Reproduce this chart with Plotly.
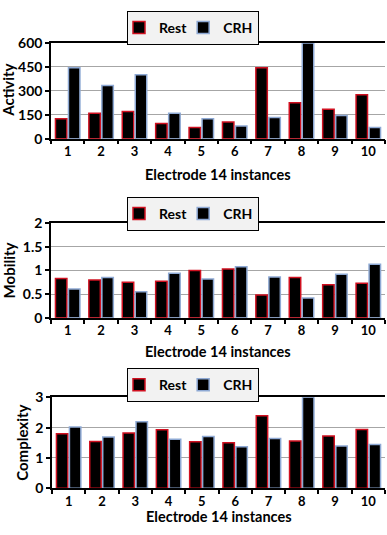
import plotly.graph_objects as go

categories = ["1", "2", "3", "4", "5", "6", "7", "8", "9", "10"]

activity_rest = [125, 160, 170, 95, 70, 105, 445, 225, 185, 275]
activity_crh = [445, 333, 400, 160, 125, 80, 133, 600, 145, 70]

mobility_rest = [0.83, 0.80, 0.75, 0.77, 1.00, 1.03, 0.48, 0.85, 0.70, 0.73]
mobility_crh = [0.61, 0.85, 0.55, 0.94, 0.82, 1.08, 0.86, 0.42, 0.92, 1.13]

complexity_rest = [1.80, 1.54, 1.82, 1.93, 1.53, 1.50, 2.39, 1.56, 1.72, 1.94]
complexity_crh = [2.02, 1.69, 2.19, 1.62, 1.71, 1.37, 1.64, 3.00, 1.39, 1.44]

y_titles = ["Activity", "Mobility", "Complexity"]
y_ticks = [[0, 150, 300, 450, 600], [0, 0.5, 1, 1.5, 2], [0, 1, 2, 3]]
y_ticktext = [["0", "150", "300", "450", "600"], ["0", "0.5", "1", "1.5", "2"], ["0", "1", "2", "3"]]
y_ranges = [[0, 600], [0, 2], [0, 3]]
x_title = "Electrode 14 instances"

W, H = 387, 535
FONT = "Lato"
REST_LINE = "#d01020"
CRH_LINE = "#8ea9d4"

# pixel geometry of panels: (top, bottom, left, right, legend_top, xlabel_y, ytitle_x)
panels = [
    (35, 134, 51, 385, 2, 171, 8),
    (221, 319, 51, 385, 194, 354, 9),
    (401, 495, 52, 385, 371, None, 22),
]

series = [
    (activity_rest, activity_crh),
    (mobility_rest, mobility_crh),
    (complexity_rest, complexity_crh),
]

fig = go.Figure()
annotations = []
for i, ((rest, crh), geo) in enumerate(zip(series, panels)):
    top, bot, left, right, ltop, xl_y, yt_x = geo
    sfx = "" if i == 0 else str(i + 1)
    leg = "legend" if i == 0 else f"legend{i + 1}"
    fig.add_trace(go.Bar(
        x=categories, y=rest, name="Rest",
        marker=dict(color="black", line=dict(color=REST_LINE, width=1.5)),
        xaxis="x" + sfx, yaxis="y" + sfx, legend=leg,
    ))
    fig.add_trace(go.Bar(
        x=categories, y=crh, name="CRH",
        marker=dict(color="black", line=dict(color=CRH_LINE, width=1.5)),
        xaxis="x" + sfx, yaxis="y" + sfx, legend=leg,
    ))
    xdom = [left / W, right / W]
    ydom = [1 - bot / H, 1 - top / H]
    fig.update_layout(**{
        "xaxis" + sfx: dict(
            domain=xdom, anchor="y" + sfx, type="category",
            range=[-0.5, 9.5], tickson="boundaries",
            showline=True, linecolor="black", linewidth=1.5, mirror=True,
            ticks="outside", ticklen=4, tickcolor="black", tickwidth=1.5,
            tickfont=dict(family=FONT, size=13, color="black", weight="bold"),
            showgrid=False, fixedrange=True,
        ),
        "yaxis" + sfx: dict(
            domain=ydom, anchor="x" + sfx, range=y_ranges[i],
            tickvals=y_ticks[i], ticktext=y_ticktext[i],
            showline=True, linecolor="black", linewidth=1.5,
            ticks="outside", ticklen=4, tickcolor="black", tickwidth=1.5,
            showgrid=True, gridcolor="#a6a6a6", gridwidth=1,
            zeroline=False,
            tickfont=dict(family=FONT, size=14, color="black", weight="bold"),
            fixedrange=True,
        ),
        leg: dict(
            orientation="h", x=193 / W, xanchor="center",
            y=1 - ltop / H, yanchor="top",
            bgcolor="#f2f2f2", bordercolor="black", borderwidth=1,
            font=dict(family=FONT, size=14, color="black", weight="bold"),
            itemwidth=30, indentation=-9, tracegroupgap=0,
        ),
    })
    xl = dict(
        text=x_title, x=(left + right) / 2 / W,
        xref="paper", yref="paper", showarrow=False, xanchor="center",
        font=dict(family=FONT, size=14.5, color="black", weight="bold"),
    )
    if xl_y is None:
        xl.update(y=0, yanchor="bottom")
    else:
        xl.update(y=1 - xl_y / H, yanchor="middle")
    annotations.append(xl)
    annotations.append(dict(
        text=y_titles[i], x=yt_x / W, y=1 - (top + bot) / 2 / H,
        xref="paper", yref="paper", showarrow=False, textangle=-90,
        xanchor="center", yanchor="middle",
        font=dict(family=FONT, size=15, color="black", weight="bold"),
    ))

fig.update_layout(
    width=W, height=H,
    margin=dict(l=0, r=0, t=0, b=0),
    paper_bgcolor="white", plot_bgcolor="white",
    barmode="group", bargap=0.22, bargroupgap=0.12,
    annotations=annotations,
    showlegend=True,
)

fig.write_html(
    "out.html",
    config={"displayModeBar": False},
    post_script="document.body.style.margin='0';document.body.style.overflow='hidden';",
)
